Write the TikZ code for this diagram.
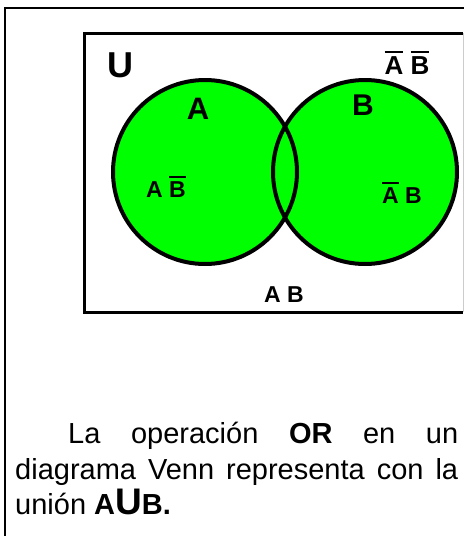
\documentclass[tikz,border=0pt]{standalone}
\usepackage{fontspec}
\setmainfont{Liberation Sans}
\usepackage{xcolor}

\definecolor{verde}{RGB}{0,255,0}
\newsavebox\cajaletra
\newcommand{\nega}[1]{\sbox\cajaletra{#1}\rlap{\rule[\dimexpr\ht\cajaletra+3pt\relax]{\wd\cajaletra}{2.6pt}}\usebox\cajaletra}

\begin{document}
\begin{tikzpicture}[x=1pt, y=-1pt,
  conjunto/.style={fill=verde},
  contorno/.style={line width=4pt},
  etiq/.style={inner sep=0pt, anchor=base, font=\bfseries\fontsize{#1}{#1}\selectfont},
  linea/.style={inner sep=0pt, anchor=base west, font=\fontsize{29}{35}\selectfont}]
  \useasboundingbox (0,0) rectangle (464,536);

  % marco de la celda
  \draw[line width=2pt] (5,536) -- (5,8) -- (464,8);

  % universo
  \draw[line width=3pt] (463,33) -- (84,33) -- (84,312) -- (463,312);
  \draw[line width=1pt, gray!40] (463,33) -- (463,312);

  % conjuntos A y B
  \fill[conjunto] (205,172) circle (92);
  \fill[conjunto] (365,172) circle (92);
  \draw[contorno] (205,172) circle (92);
  \draw[contorno] (365,172) circle (92);

  \node[etiq=36] (u)   at (120,77)  {U};
  \node[etiq=31] (a)   at (198,119) {A};
  \node[etiq=30] (b)   at (363,115) {B};
  \node[etiq=26] (anbn) at (407,74)  {\nega{A} \nega{B}};
  \node[etiq=23] (abn)  at (166,197) {A \nega{B}};
  \node[etiq=23] (anb)  at (402,203) {\nega{A} B};
  \node[etiq=23] (ab)   at (284,302) {A B};

  % texto
  \node[linea] (l1) at (68,443)  {\makebox[390pt][s]{La operación \textbf{OR} en un}};
  \node[linea] (l2) at (15,479)  {\makebox[443pt][s]{diagrama Venn representa con la}};
  \node[linea] (l3) at (15,514)  {unión \textbf{A{\fontsize{37}{37}\selectfont U}B.}};
\end{tikzpicture}
\end{document}
